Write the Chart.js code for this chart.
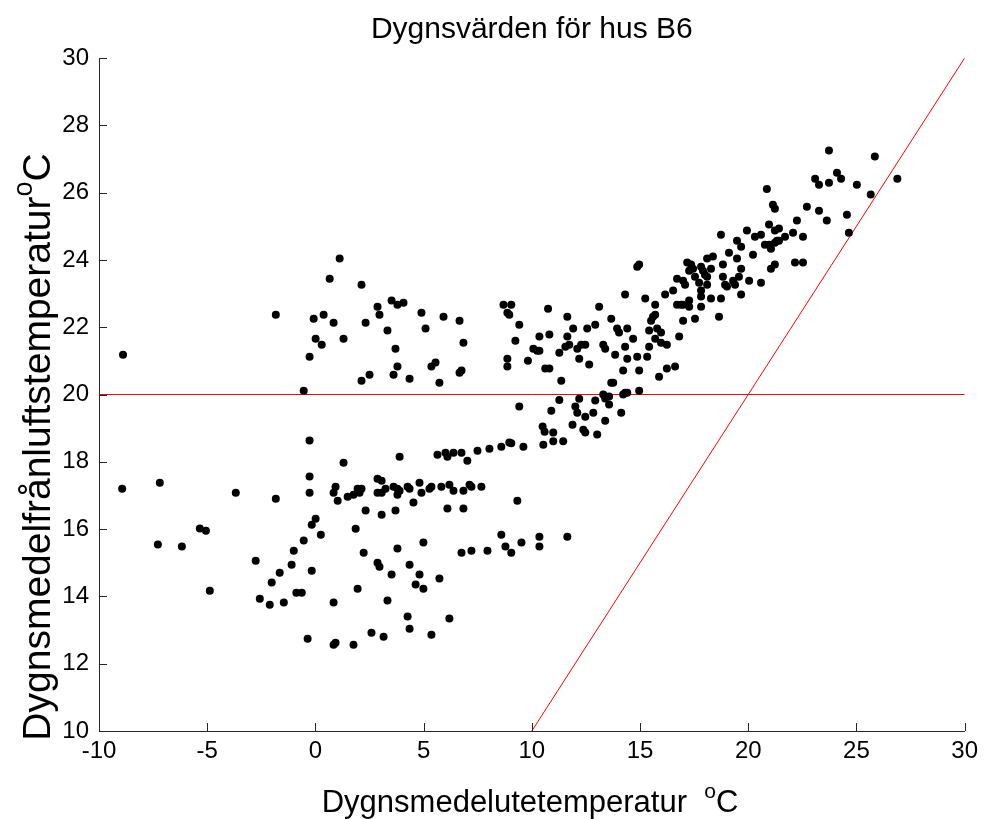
<!DOCTYPE html>
<html>
<head>
<meta charset="utf-8">
<script src="https://cdn.jsdelivr.net/npm/chart.js@4.4.1/dist/chart.umd.min.js"></script>
<style>
  html, body { margin: 0; padding: 0; background: #ffffff; }
  #wrap { width: 984px; height: 819px; }
</style>
</head>
<body>
<div id="wrap"><canvas id="chart" width="984" height="819"></canvas></div>
<script>
// Daily mean outdoor temperature (x) and daily mean exhaust air temperature (y), house B6
const outdoorTemp = [
  -8.89, -8.93, -7.19, -7.28, -6.17, -5.34, -5.06, -4.88, -3.68, -1.83,
  -1.83, -0.27, -0.27, -0.27, 0.01, -0.17, 0.25, -0.54, -1.0, -2.76,
  -1.1, -1.65, -0.17, -2.02, -0.88, -0.63, -2.57, -2.11, -1.46, -0.36,
  -0.08, 0.01, 0.29, -0.27, -0.54, 0.38, 0.84, 1.30, 0.66, 1.12,
  2.13, 2.32, 2.87, 2.96, 3.52, 3.79, 4.07, 3.33, 3.70, 2.13,
  2.50, 3.61, 3.79, 4.35, 4.90, 5.09, 5.92, 6.66, 6.84, 5.36,
  5.55, 5.73, 6.66, 6.75, 8.69, 9.05, 8.87, 8.96, 9.42, 9.24,
  8.87, 8.87, 9.82, 9.42, 3.89, 1.30, 5.64, 6.01, 6.10, 6.38,
  6.75, 7.02, 7.49, 8.04, 8.59, 8.96, 9.05, 9.61, 0.93, 0.84,
  1.03, 1.49, 1.76, 1.95, 2.13, 2.04, 2.87, 3.06, 2.87, 3.06,
  3.24, 3.61, 3.79, 3.89, 3.79, 4.26, 4.35, 4.81, 4.90, 5.27,
  5.36, 5.82, 6.19, 6.38, 6.84, 7.12, 7.21, 7.67, 4.53, 2.32,
  3.06, 3.70, 6.10, 6.84, 9.33, 1.86, 2.23, 3.79, 4.99, 6.75,
  7.21, 7.95, 8.59, 8.78, 9.05, 9.52, 2.87, 2.96, 3.52, 4.35,
  4.81, 5.73, 4.63, 4.99, 1.95, 0.84, 3.33, 4.26, 4.35, 6.19,
  2.59, 3.15, 5.36, 0.84, 0.93, 1.76, 10.53, 10.99, 11.45, 10.35,
  10.35, 11.64, 10.50, 10.59, 10.99, 10.90, 11.27, 11.88, 12.01, 12.10,
  12.19, 12.38, 12.47, 12.47, 12.84, 12.93, 13.02, 13.39, 13.30, 13.39,
  13.57, 13.57, 13.67, 13.76, 14.13, 14.22, 14.31, 14.41, 14.96, 11.36,
  10.62, 10.81, 10.07, 10.25, 10.35, 10.35, 10.81, 10.75, 11.64, 11.64,
  11.91, 11.27, 11.55, 11.73, 12.10, 12.19, 12.28, 12.47, 12.65, 12.56,
  12.93, 13.11, 13.30, 13.39, 13.67, 13.85, 13.94, 14.03, 14.41, 14.31,
  14.41, 14.22, 14.68, 14.87, 14.96, 14.31, 15.24, 15.33, 15.42, 15.42,
  15.51, 15.60, 15.70, 15.70, 15.70, 15.79, 15.97, 15.88, 15.97, 16.24,
  16.24, 16.62, 16.81, 16.16, 16.53, 16.71, 16.90, 16.99, 16.99, 16.71,
  16.99, 17.08, 17.27, 17.27, 17.54, 17.82, 17.82, 17.82, 17.73, 18.10,
  18.28, 18.65, 14.96, 14.87, 17.18, 17.36, 17.27, 17.45, 17.54, 17.82,
  17.91, 18.00, 18.10, 18.28, 18.10, 18.37, 18.74, 18.83, 18.83, 18.93,
  19.02, 18.74, 19.11, 19.48, 19.67, 19.48, 19.30, 19.39, 19.57, 19.67,
  19.67, 20.04, 19.94, 20.22, 20.31, 20.59, 20.59, 20.77, 20.96, 21.05,
  20.96, 21.14, 21.23, 21.23, 21.33, 21.05, 21.23, 23.73, 25.85, 26.89,
  23.09, 23.27, 24.10, 24.29, 23.73, 25.02, 25.66, 20.86, 22.71, 23.27,
  23.63, 24.56, 24.65, 22.25, 21.42, 22.07, 21.70, 22.53, 21.42, 21.23,
  22.16, 22.53
];
const exhaustTemp = [
  21.18, 17.20, 17.38, 15.54, 15.48, 16.02, 15.95, 14.17, 17.08, 16.90,
  22.37, 18.63, 17.56, 17.08, 16.31, 16.13, 15.83, 15.66, 15.36, 15.06,
  14.94, 14.70, 14.76, 14.41, 14.11, 14.11, 13.93, 13.75, 13.82, 12.74,
  22.25, 21.66, 21.48, 21.12, 20.11, 22.37, 22.13, 21.66, 23.44, 24.04,
  23.26, 22.13, 22.61, 22.37, 22.79, 22.67, 22.73, 21.90, 21.36, 20.41,
  20.59, 20.59, 20.83, 20.47, 22.43, 21.96, 22.31, 22.19, 21.54, 20.83,
  20.95, 20.35, 20.65, 20.71, 22.67, 22.67, 22.43, 22.37, 22.07, 21.60,
  21.06, 20.83, 21.00, 19.64, 18.15, 17.97, 18.21, 18.27, 18.15, 18.27,
  18.27, 18.03, 18.33, 18.39, 18.45, 18.57, 18.55, 18.45, 17.26, 17.08,
  16.84, 16.96, 17.02, 17.20, 17.20, 17.08, 17.50, 17.44, 17.08, 17.08,
  17.20, 17.26, 17.20, 17.14, 17.02, 17.26, 17.20, 17.38, 17.08, 17.20,
  17.26, 17.26, 17.32, 17.14, 17.14, 17.32, 17.26, 17.26, 16.79, 16.55,
  16.43, 16.55, 16.61, 16.61, 16.84, 16.01, 15.30, 15.42, 15.60, 15.30,
  15.36, 15.36, 15.83, 15.48, 15.30, 15.60, 15.00, 14.88, 14.65, 14.94,
  14.65, 14.53, 14.35, 14.23, 14.23, 13.82, 13.88, 13.40, 13.04, 13.34,
  12.92, 12.80, 12.86, 12.56, 12.62, 12.56, 18.51, 18.61, 18.61, 15.77,
  15.48, 15.77, 19.05, 18.89, 18.87, 19.52, 19.84, 19.10, 19.64, 19.46,
  19.87, 18.95, 18.87, 19.34, 19.46, 19.82, 18.81, 19.22, 20.00, 19.88,
  19.94, 19.70, 20.35, 20.35, 19.46, 20.00, 20.05, 20.05, 20.11, 20.41,
  20.77, 20.77, 21.36, 21.30, 21.30, 21.72, 21.78, 22.55, 22.31, 21.72,
  21.96, 21.24, 21.42, 21.48, 21.36, 21.06, 21.48, 21.48, 20.89, 21.96,
  22.07, 22.61, 21.48, 21.36, 22.25, 21.18, 21.96, 21.84, 21.96, 21.42,
  21.06, 20.71, 21.66, 21.12, 20.71, 22.97, 22.85, 21.12, 21.42, 21.90,
  22.19, 22.31, 22.37, 22.67, 21.66, 21.96, 21.84, 20.53, 21.54, 21.48,
  20.77, 20.83, 21.72, 22.97, 23.09, 22.67, 22.67, 22.67, 22.19, 23.44,
  23.38, 23.26, 22.79, 22.61, 22.25, 22.61, 22.91, 23.09, 23.32, 23.26,
  22.85, 22.31, 23.86, 23.80, 23.92, 23.86, 23.68, 23.74, 23.50, 23.80,
  23.68, 23.56, 23.50, 23.74, 24.04, 24.10, 22.85, 23.86, 23.50, 23.26,
  23.21, 24.75, 24.21, 24.57, 24.39, 24.04, 23.38, 23.26, 23.50, 23.74,
  22.97, 23.38, 24.87, 24.15, 24.69, 24.75, 23.32, 24.45, 24.45, 24.33,
  25.05, 25.64, 25.52, 24.87, 24.57, 23.74, 23.86, 27.25, 27.07, 26.41,
  26.41, 26.23, 26.59, 26.41, 26.29, 26.23, 25.94, 26.11, 25.58, 25.46,
  25.17, 25.34, 24.81, 25.17, 24.93, 24.81, 24.69, 24.69, 24.57, 24.51,
  23.92, 23.92
];

// 20 °C set-point line and the line where exhaust = outdoor temperature
const setpointX = [-10, 30];
const setpointY = [20, 20];
const equalX = [10, 30];
const equalY = [10, 30];

// Axis ranges and tick steps
const xRange = [-10, 30];
const xStep = 5;
const yRange = [10, 30];
const yStep = 2;

const titleText = 'Dygnsvärden för hus B6';
const xTitleText = 'Dygnsmedelutetemperatur  ';
const yTitleText = 'Dygnsmedelfrånluftstemperatur';

const FONT = '"Liberation Sans", Arial, Helvetica, sans-serif';
const AXIS_COLOR = '#262626';

const toPoints = (xs, ys) => xs.map((x, i) => ({ x: x, y: ys[i] }));

// Draw text followed by a superscript "o" and "C", centred on cx
function drawWithDegree(ctx, text, size, cx, baseline) {
  const supSize = Math.round(size * 0.68);
  ctx.font = size + 'px ' + FONT;
  const w1 = ctx.measureText(text).width;
  const wC = ctx.measureText('C').width;
  ctx.font = supSize + 'px ' + FONT;
  const wo = ctx.measureText('o').width;
  const total = w1 + wo + wC;
  let x = cx - total / 2;
  ctx.textAlign = 'left';
  ctx.textBaseline = 'alphabetic';
  ctx.font = size + 'px ' + FONT;
  ctx.fillText(text, x, baseline);
  x += w1;
  ctx.font = supSize + 'px ' + FONT;
  ctx.fillText('o', x, baseline - size * 0.45);
  x += wo;
  ctx.font = size + 'px ' + FONT;
  ctx.fillText('C', x, baseline);
}

const decorations = {
  id: 'decorations',
  afterDraw(chart) {
    const ctx = chart.ctx;
    const a = chart.chartArea;
    const xs = chart.scales.x;
    const ys = chart.scales.y;
    ctx.save();
    // inward tick marks
    ctx.strokeStyle = AXIS_COLOR;
    ctx.lineWidth = 1;
    xs.ticks.forEach(t => {
      const px = Math.round(xs.getPixelForValue(t.value)) + 0.5;
      ctx.beginPath();
      ctx.moveTo(px, a.bottom);
      ctx.lineTo(px, a.bottom - 8);
      ctx.stroke();
    });
    ys.ticks.forEach(t => {
      const py = Math.round(ys.getPixelForValue(t.value)) + 0.5;
      ctx.beginPath();
      ctx.moveTo(a.left, py);
      ctx.lineTo(a.left + 8, py);
      ctx.stroke();
    });
    ctx.fillStyle = '#000000';
    // chart title
    ctx.font = '30px ' + FONT;
    ctx.textAlign = 'center';
    ctx.textBaseline = 'alphabetic';
    ctx.fillText(titleText, (a.left + a.right) / 2, 38);
    // x axis title
    drawWithDegree(ctx, xTitleText, 31, 530, 812);
    // y axis title
    ctx.save();
    ctx.translate(50, 447);
    ctx.rotate(-Math.PI / 2);
    drawWithDegree(ctx, yTitleText, 39, 0, 0);
    ctx.restore();
    ctx.restore();
  }
};

new Chart(document.getElementById('chart'), {
  type: 'scatter',
  data: {
    datasets: [
      {
        label: 'Dygnsvärden',
        data: toPoints(outdoorTemp, exhaustTemp),
        pointRadius: 4,
        pointHoverRadius: 4,
        pointBackgroundColor: '#000000',
        pointBorderWidth: 0,
        showLine: false
      },
      {
        label: '20 °C',
        type: 'line',
        data: toPoints(setpointX, setpointY),
        borderColor: '#ff0000',
        borderWidth: 1,
        pointRadius: 0,
        fill: false
      },
      {
        label: 'ute = frånluft',
        type: 'line',
        data: toPoints(equalX, equalY),
        borderColor: '#ff0000',
        borderWidth: 1,
        pointRadius: 0,
        fill: false
      }
    ]
  },
  options: {
    responsive: false,
    animation: false,
    events: [],
    layout: { padding: { left: 0, top: 58, right: 18, bottom: 0 } },
    plugins: {
      legend: { display: false },
      tooltip: { enabled: false },
      title: { display: false }
    },
    scales: {
      x: {
        type: 'linear',
        min: xRange[0],
        max: xRange[1],
        ticks: {
          stepSize: xStep,
          color: '#000000',
          font: { family: FONT, size: 24 },
          padding: 6,
          maxRotation: 0
        },
        grid: { display: false, drawTicks: false },
        border: { display: true, color: AXIS_COLOR, width: 1 },
        afterFit(scale) { scale.height = 88; }
      },
      y: {
        type: 'linear',
        min: yRange[0],
        max: yRange[1],
        ticks: {
          stepSize: yStep,
          color: '#000000',
          font: { family: FONT, size: 24 },
          padding: 10
        },
        grid: { display: false, drawTicks: false },
        border: { display: true, color: AXIS_COLOR, width: 1 },
        afterFit(scale) { scale.width = 99; }
      }
    }
  },
  plugins: [decorations]
});
</script>
</body>
</html>
